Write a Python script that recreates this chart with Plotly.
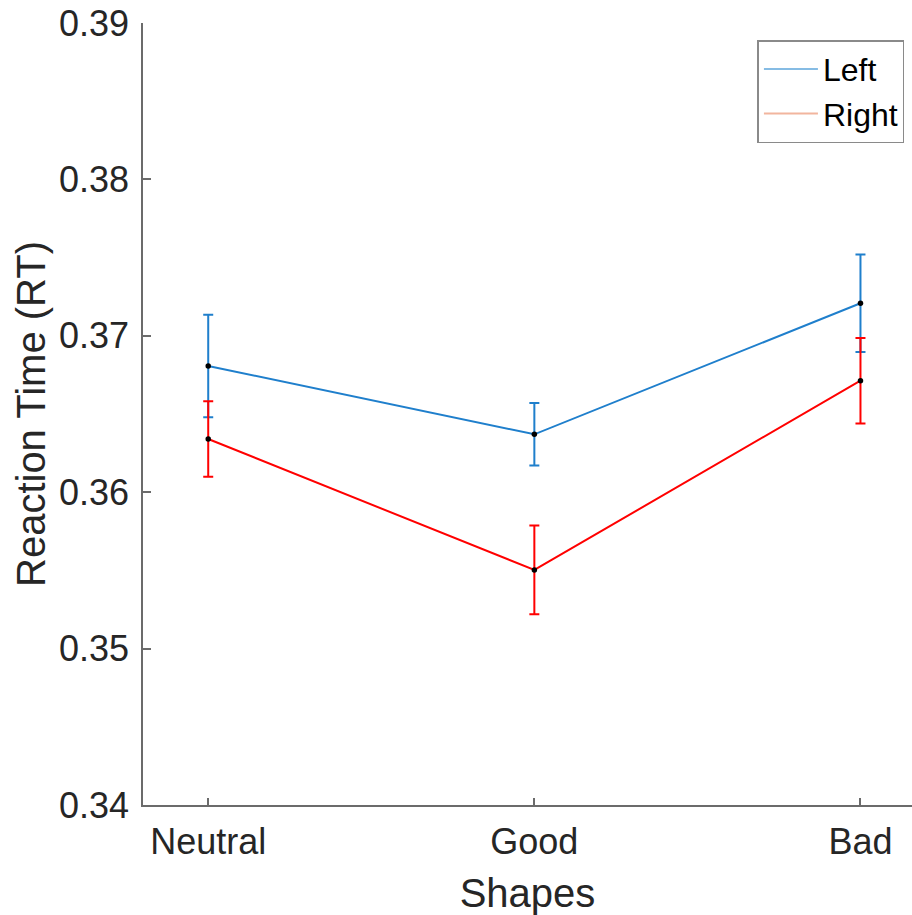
import plotly.graph_objects as go

categories = ["Neutral", "Good", "Bad"]
cat_pos = [1, 2, 3]
left_rt = [0.36807, 0.36370, 0.37208]
left_err = [0.00327, 0.00200, 0.00312]
right_rt = [0.36340, 0.35503, 0.36713]
right_err = [0.00242, 0.00284, 0.00273]
y_ticks = [0.34, 0.35, 0.36, 0.37, 0.38, 0.39]

BLUE = "#1f7fcc"
RED = "#ff0000"
FONT = "Liberation Sans, Arial, sans-serif"
TXT = "#262626"

fig = go.Figure()
for vals, errs, col in [(left_rt, left_err, BLUE), (right_rt, right_err, RED)]:
    fig.add_trace(go.Scatter(
        x=cat_pos, y=vals, mode="lines+markers",
        line=dict(color=col, width=2),
        marker=dict(color="black", size=5.5),
        error_y=dict(type="data", array=errs, visible=True, color=col,
                     thickness=2, width=5),
        showlegend=False, hoverinfo="skip"))

# legend entries (lighter sample lines as in the reference)
fig.add_trace(go.Scatter(x=[None], y=[None], mode="lines", name="Left",
                         line=dict(color="#86bce4", width=2)))
fig.add_trace(go.Scatter(x=[None], y=[None], mode="lines", name="Right",
                         line=dict(color="#f2b59e", width=2)))

fig.update_layout(
    width=912, height=915,
    margin=dict(l=143, r=0, t=23, b=110),
    paper_bgcolor="white", plot_bgcolor="white",
    font=dict(family=FONT, color=TXT, size=36),
    legend=dict(x=0.799, y=0.978, xanchor="left", yanchor="top",
                bgcolor="white", bordercolor="#8a8a8a", borderwidth=1.5,
                font=dict(size=32, color="black"),
                tracegroupgap=0, itemwidth=54),
    xaxis=dict(
        range=[0.8, 3.158], tickmode="array", tickvals=cat_pos,
        ticktext=categories, ticks="inside", ticklen=7, tickwidth=1.5,
        tickcolor="#6b6b6b", showline=True, linecolor="#6b6b6b",
        linewidth=1.5, showgrid=False, zeroline=False,
        tickfont=dict(size=36, color=TXT), ticklabelstandoff=4,
        title=dict(text="Shapes", font=dict(size=40, color=TXT), standoff=18)),
    yaxis=dict(
        range=[0.34, 0.39], tickmode="array", tickvals=y_ticks,
        ticktext=[f"{v:.2f}" for v in y_ticks], ticks="inside", ticklen=8,
        tickwidth=1.5, tickcolor="#6b6b6b", showline=True,
        linecolor="#6b6b6b", linewidth=1.5, showgrid=False, zeroline=False,
        tickfont=dict(size=36, color=TXT), ticklabelstandoff=5),
    annotations=[dict(
        text="Reaction Time (RT)", textangle=-90, showarrow=False,
        xref="paper", yref="paper", x=(31 - 143) / 769, y=0.5,
        xanchor="center", yanchor="middle",
        font=dict(size=40, color=TXT, family=FONT))],
)

fig.write_html("out.html")
